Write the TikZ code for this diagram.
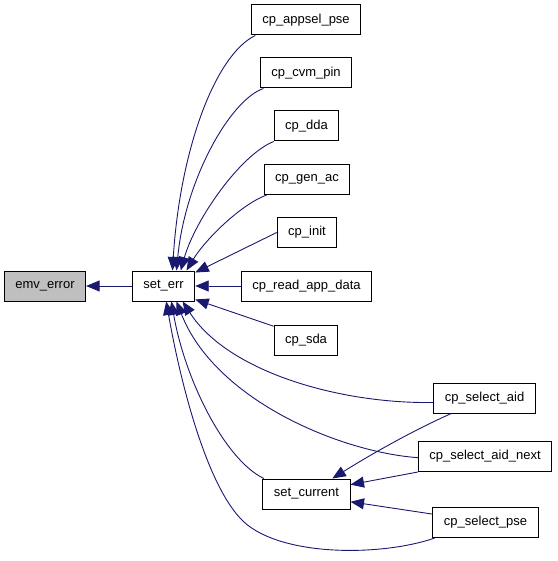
\documentclass[tikz,border=0pt]{standalone}
\usepackage{fontspec}
\setmainfont{Liberation Sans}
\usepackage{tikz}
\usetikzlibrary{arrows.meta}
\definecolor{edgeblue}{RGB}{25, 25, 112}
\definecolor{focusgray}{RGB}{191, 191, 191}
\tikzset{
  fnbox/.style={rectangle, draw=black, fill=white, line width=1pt,
              minimum height=30pt, inner xsep=11pt, inner ysep=0pt,
              font=\fontsize{13}{15}\selectfont},
  focusbox/.style={fnbox, fill=focusgray},
  call/.style={-{Triangle[length=13.5pt,width=11pt]}, line width=0.9pt, color=edgeblue},
}

\begin{document}
\begin{tikzpicture}[x=1pt, y=-1pt]
  \useasboundingbox (0,0) rectangle (557,561);

  \node[focusbox] (emverror) at (45,286) {emv\_error};
  \node[fnbox] (seterr) at (163.5,286) {set\_err};
  \node[fnbox] (appselpse) at (306,20) {cp\_appsel\_pse};
  \node[fnbox] (cvmpin) at (306,73) {cp\_cvm\_pin};
  \node[fnbox] (dda) at (306.5,126) {cp\_dda};
  \node[fnbox] (genac) at (307,179.5) {cp\_gen\_ac};
  \node[fnbox] (init) at (307,232.5) {cp\_init};
  \node[fnbox] (readappdata) at (306.5,286) {cp\_read\_app\_data};
  \node[fnbox] (sda) at (306,340) {cp\_sda};
  \node[fnbox] (selectaid) at (484.5,398) {cp\_select\_aid};
  \node[fnbox] (selectaidnext) at (485,456.5) {cp\_select\_aid\_next};
  \node[fnbox] (setcurrent) at (306.5,494) {set\_current};
  \node[fnbox] (selectpse) at (485.5,522.5) {cp\_select\_pse};

  \draw[call] (seterr) -- (emverror);
  \draw[call] (appselpse.197) .. controls (215,55) and (180,150) .. (seterr.60);
  \draw[call] (cvmpin.200) .. controls (230,100) and (185,180) .. (seterr.50);
  \draw[call] (dda.south west) .. controls (240,155) and (195,220) .. (seterr.42);
  \draw[call] (genac.201) .. controls (240,205) and (205,240) .. (seterr.34);
  \draw[call] (init.west) -- (seterr.23);
  \draw[call] (readappdata) -- (seterr);
  \draw[call] (sda.157) -- (seterr.-23);
  \draw[call] (selectaid.185) .. controls (340,404) and (228,372) .. (seterr.-39);
  \draw[call] (selectaidnext.181) .. controls (340,452) and (215,400) .. (seterr.-50);
  \draw[call] (setcurrent.160) .. controls (225,460) and (185,380) .. (seterr.-63);
  \draw[call] (selectpse.197) .. controls (380,557) and (275,557) .. (240,518)
                               .. controls (205,480) and (180,380) .. (seterr.-80);

  \draw[call] (selectaid.205) .. controls (410,432) and (370,455) .. (setcurrent.31);
  \draw[call] (selectaidnext.south west) -- (setcurrent.12);
  \draw[call] (selectpse.171) -- (setcurrent.-10);
\end{tikzpicture}
\end{document}
